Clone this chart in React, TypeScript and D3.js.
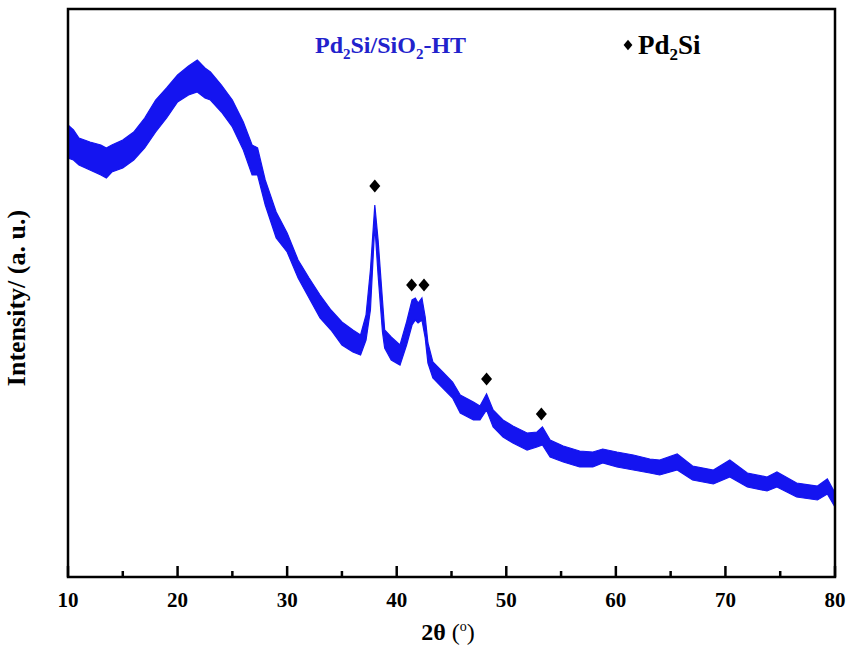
import React from "react";
import * as d3 from "d3";

// 2θ sample positions
const theta = [10.0, 10.5, 11.0, 12.0, 13.0, 13.5, 14.0, 15.0, 16.0, 17.0, 18.0, 19.0, 20.0, 21.0, 21.8, 22.5, 23.0, 24.0, 25.0, 26.0, 26.8, 27.3, 28.0, 29.0, 30.0, 31.0, 32.0, 33.0, 34.0, 35.0, 36.0, 36.7, 37.2, 37.6, 38.0, 38.3, 38.7, 38.9, 39.5, 40.3, 40.9, 41.4, 41.7, 41.95, 42.3, 42.6, 42.85, 43.3, 44.2, 45.1, 45.8, 47.0, 47.6, 48.2, 48.8, 49.7, 50.6, 51.9, 52.8, 53.3, 54.0, 55.2, 56.7, 57.9, 58.8, 60.1, 61.6, 63.1, 64.0, 65.6, 67.0, 68.9, 70.4, 72.0, 73.8, 74.7, 76.5, 78.4, 79.3, 80.0];
// upper edge of the noisy trace (a.u.)
const upper = [452, 447, 439, 435, 432, 429, 432, 437, 445, 459, 477, 489, 502, 511, 517, 509, 505, 492, 477, 455, 432, 429, 397, 365, 344, 317, 299, 282, 267, 255, 247, 242, 262, 307, 372, 337, 277, 247, 240, 232, 255, 277, 279, 274, 279, 260, 234, 215, 205, 195, 182, 175, 171, 183, 167, 157, 151, 144, 145, 150, 137, 131, 126, 125, 128, 125, 122, 118, 117, 123, 111, 107, 117, 104, 100, 105, 94, 91, 98, 84];
// lower edge of the noisy trace (a.u.)
const lower = [419, 417, 412, 407, 402, 399, 405, 409, 417, 429, 445, 459, 475, 482, 485, 479, 477, 465, 450, 427, 402, 402, 372, 339, 325, 299, 279, 259, 247, 232, 225, 222, 237, 267, 352, 302, 245, 229, 217, 212, 232, 252, 257, 254, 257, 239, 214, 199, 189, 179, 164, 157, 157, 167, 150, 140, 134, 127, 130, 132, 120, 115, 110, 110, 114, 110, 107, 104, 102, 107, 97, 93, 100, 90, 86, 90, 80, 77, 83, 70];

// Pd2Si reflection markers
const markerTheta = [38.0, 41.36, 42.49, 48.2, 53.2];
const markerValue = [391, 292, 292, 198, 163];

const xTicksMajor = [10, 20, 30, 40, 50, 60, 70, 80];
const xTicksMinor = [15, 25, 35, 45, 55, 65, 75];

const W = 850;
const H = 648;
const left = 68;
const right = 835;
const top = 9;
const bottom = 577;

export default function App() {
  const x = d3.scaleLinear().domain([10, 80]).range([left, right]);
  const y = d3.scaleLinear().domain([0, 568]).range([bottom, top]);

  const rows = theta.map((t, i) => ({ t, hi: upper[i], lo: lower[i] }));
  const area = d3
    .area<{ t: number; hi: number; lo: number }>()
    .x((d) => x(d.t))
    .y0((d) => y(d.lo))
    .y1((d) => y(d.hi));
  const blue = "#1414f0";
  const font = "'Liberation Serif', 'Times New Roman', serif";
  const diamond = (cx: number, cy: number, s = 1) =>
    `M${cx},${cy - 6.5 * s} L${cx + 5.5 * s},${cy} L${cx},${cy + 6.5 * s} L${cx - 5.5 * s},${cy} Z`;

  return (
    <svg
      width={W}
      height={H}
      style={{ position: "absolute", left: 0, top: 0, background: "#fff" }}
      fontFamily={font}
    >
      <path d={area(rows) || ""} fill={blue} stroke={blue} strokeWidth={1.2} />
      {markerTheta.map((t, i) => (
        <path key={i} d={diamond(x(t), y(markerValue[i]))} fill="#000" />
      ))}
      <rect
        x={left}
        y={top}
        width={right - left}
        height={bottom - top}
        fill="none"
        stroke="#000"
        strokeWidth={2.5}
      />
      {xTicksMajor.map((t) => (
        <g key={"M" + t}>
          <line x1={x(t)} x2={x(t)} y1={bottom} y2={bottom - 11} stroke="#000" strokeWidth={2.5} />
          <text x={x(t)} y={607} textAnchor="middle" fontSize={21} fontWeight="bold">
            {t}
          </text>
        </g>
      ))}
      {xTicksMinor.map((t) => (
        <line key={"m" + t} x1={x(t)} x2={x(t)} y1={bottom} y2={bottom - 6} stroke="#000" strokeWidth={2.5} />
      ))}
      <text x={448} y={640} textAnchor="middle" fontSize={24} fontWeight="bold">
        2θ <tspan fontWeight="normal">(</tspan>
        <tspan fontWeight="normal" fontSize={14} dy={-9}>o</tspan>
        <tspan fontWeight="normal" dy={9}>)</tspan>
      </text>
      <text
        transform={`translate(25,298) rotate(-90)`}
        textAnchor="middle"
        fontSize={26}
        fontWeight="bold"
      >
        Intensity/ (a. u.)
      </text>
      <text x={315} y={53} fontSize={24} fontWeight="bold" fill="#2222cc">
        Pd<tspan fontSize={15} dy={6}>2</tspan>
        <tspan dy={-6}>Si/SiO</tspan>
        <tspan fontSize={15} dy={6}>2</tspan>
        <tspan dy={-6}>-HT</tspan>
      </text>
      <path d={diamond(628, 45, 0.8)} fill="#000" />
      <text x={638} y={54} fontSize={27} fontWeight="bold" fill="#000">
        Pd<tspan fontSize={17} dy={6}>2</tspan>
        <tspan dy={-6}>Si</tspan>
      </text>
    </svg>
  );
}
